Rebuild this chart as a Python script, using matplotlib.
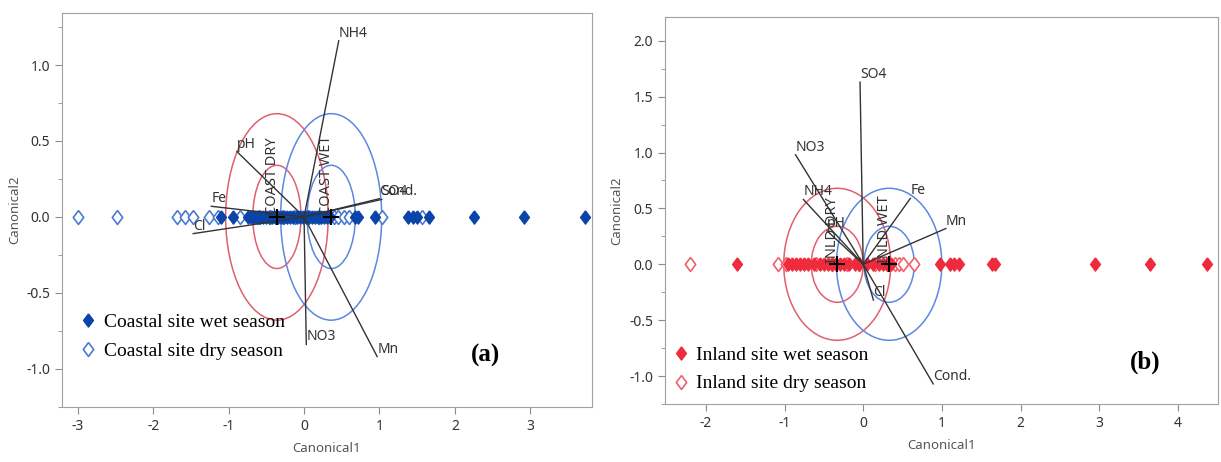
import numpy as np
import matplotlib
matplotlib.use("Agg")
import matplotlib.pyplot as plt
from matplotlib.patches import Ellipse
from matplotlib.lines import Line2D
from matplotlib.ticker import MultipleLocator

# ---------------- data ----------------
# panel (a) coastal site
a_wet_x = [-1.10, -0.94, -0.75, -0.70, -0.66, -0.62, -0.58, -0.54, -0.50, -0.46, -0.42,
           -0.38, -0.34, -0.30, -0.26, -0.22, -0.18, -0.14, -0.10, -0.06, -0.02, 0.02,
           0.06, 0.10, 0.14, 0.18, 0.22, 0.26, 0.30, 0.35, 0.68, 0.72, 0.94, 1.38,
           1.44, 1.50, 1.66, 2.26, 2.92, 3.72]
a_dry_x = [-3.00, -2.48, -1.68, -1.58, -1.47, -1.26, -1.14, -0.85, -0.60, -0.45, -0.28,
           -0.12, 0.05, 0.20, 0.40, 0.45, 0.53, 0.60, 1.03, 1.56]
a_vec_names = ["NH4", "pH", "Fe", "Cl", "SO4", "Cond.", "NO3", "Mn"]
a_vec_x = [0.46, -0.89, -1.23, -1.47, 1.03, 1.00, 0.03, 0.97]
a_vec_y = [1.16, 0.43, 0.07, -0.11, 0.115, 0.12, -0.84, -0.92]
a_grp_names = ["COAST DRY", "COAST WET"]
a_grp_x = [-0.36, 0.36]
a_inner = [(0.32, 0.34), (0.32, 0.34)]   # half widths / heights
a_outer = [(0.68, 0.68), (0.67, 0.68)]

# panel (b) inland site
b_wet_x = [-1.61, -0.95, -0.90, -0.85, -0.80, -0.75, -0.70, -0.62, -0.55, -0.50, -0.45,
           -0.40, -0.35, -0.30, -0.25, -0.18, -0.10, -0.05, 0.05, 0.12, 0.20, 0.25,
           0.30, 0.35, 0.98, 1.10, 1.15, 1.22, 1.64, 1.67, 2.95, 3.65, 4.37]
b_dry_x = [-2.20, -1.08, -0.98, -0.60, -0.40, -0.20, -0.05, 0.15, 0.30, 0.40, 0.45,
           0.50, 0.65]
b_vec_names = ["SO4", "NO3", "NH4", "pH", "Fe", "Mn", "Cl", "Cond."]
b_vec_x = [-0.04, -0.86, -0.76, -0.46, 0.60, 1.05, 0.13, 0.89]
b_vec_y = [1.63, 0.98, 0.58, 0.30, 0.59, 0.32, -0.32, -1.07]
b_grp_names = ["INLD DRY", "INLD WET"]
b_grp_x = [-0.33, 0.33]
b_inner = [(0.33, 0.34), (0.32, 0.34)]
b_outer = [(0.68, 0.68), (0.67, 0.68)]

# ---------------- style ----------------
plt.rcParams['font.family'] = ['Noto Sans', 'DejaVu Sans']
serif = ['Liberation Serif', 'DejaVu Serif']
diamond = [(0, 1), (0.75, 0), (0, -1), (-0.75, 0), (0, 1)]
gray = '#8c8c8c'
ell_red = '#e0606e'
ell_blue = '#5b88e0'

fig = plt.figure(figsize=(12.21, 4.62), dpi=100)
axA = fig.add_axes([0.0508, 0.1197, 0.4341, 0.8528])
axB = fig.add_axes([0.5446, 0.1255, 0.4529, 0.8371])


def panel(ax, wet_x, dry_x, wet_c, dry_c, names, vx, vy, gnames, gx, inner, outer,
          xlim, ylim, xt, yt, wet_lab, dry_lab, letter, letter_xy, leg_anchor):
    # ellipses
    for i, c in enumerate([ell_red, ell_blue]):
        for hw, hh in (inner[i], outer[i]):
            ax.add_patch(Ellipse((gx[i], 0), 2 * hw, 2 * hh, fill=False,
                                 edgecolor=c, lw=1.1, zorder=2))
    # points
    ax.plot(dry_x, np.zeros(len(dry_x)), linestyle='none', marker=diamond,
            markersize=10, markerfacecolor='white', markeredgecolor=dry_c,
            markeredgewidth=1.2, zorder=3)
    ax.plot(wet_x, np.zeros(len(wet_x)), linestyle='none', marker=diamond,
            markersize=9.5, color=wet_c, zorder=4)
    # group labels + means
    for i in range(2):
        ax.text(gx[i] - 0.06, 0.01, gnames[i], rotation=90, ha='center', va='bottom',
                fontsize=10.5, color='#333333', zorder=6)
        ax.plot(gx[i], 0, marker='+', markersize=11, markeredgewidth=1.5,
                color='black', zorder=6)
    # vectors
    for n, x, y in zip(names, vx, vy):
        ax.plot([0, x], [0, y], color='#333333', lw=1.0, zorder=5)
        ax.text(x, y, n, ha='left', va='bottom', fontsize=10, color='#333333', zorder=6)
    ax.set_xlim(*xlim)
    ax.set_ylim(*ylim)
    ax.set_xticks(xt)
    ax.set_yticks(yt)
    ax.yaxis.set_minor_locator(MultipleLocator(0.25))
    ax.set_xticklabels([f"{v:g}" for v in xt])
    ax.set_yticklabels([f"{v:.1f}" for v in yt])
    ax.tick_params(which='both', direction='out', color=gray, labelcolor='#333333',
                   labelsize=10)
    ax.tick_params(which='major', length=5)
    ax.tick_params(which='minor', length=3)
    for s in ax.spines.values():
        s.set_color('#a0a0a0')
    ax.set_xlabel('Canonical1', fontsize=9.5, color='#555555', labelpad=6)
    ax.set_ylabel('Canonical2', fontsize=9.5, color='#555555')
    handles = [Line2D([], [], linestyle='none', marker=diamond, markersize=9.5,
                      color=wet_c),
               Line2D([], [], linestyle='none', marker=diamond, markersize=10,
                      markerfacecolor='white', markeredgecolor=dry_c,
                      markeredgewidth=1.2)]
    ax.legend(handles, [wet_lab, dry_lab], loc='lower left', bbox_to_anchor=leg_anchor,
              frameon=False, prop={'family': serif, 'size': 14}, handlelength=0.8,
              handletextpad=0.4, labelspacing=0.55, borderaxespad=0)
    ax.text(letter_xy[0], letter_xy[1], letter, fontsize=18, fontweight='bold',
            family=serif, ha='center', va='center')


panel(axA, a_wet_x, a_dry_x, '#0b44a8', '#4a7bd0', a_vec_names, a_vec_x, a_vec_y,
      a_grp_names, a_grp_x, a_inner, a_outer, (-3.21, 3.82), (-1.25, 1.345),
      [-3, -2, -1, 0, 1, 2, 3], [1.0, 0.5, 0.0, -0.5, -1.0],
      'Coastal site wet season', 'Coastal site dry season', '(a)', (2.4, -0.91),
      (0.02, 0.10))
panel(axB, b_wet_x, b_dry_x, '#ee2a3c', '#f0606e', b_vec_names, b_vec_x, b_vec_y,
      b_grp_names, b_grp_x, b_inner, b_outer, (-2.52, 4.51), (-1.25, 2.21),
      [-2, -1, 0, 1, 2, 3, 4], [2.0, 1.5, 1.0, 0.5, 0.0, -0.5, -1.0],
      'Inland site wet season', 'Inland site dry season', '(b)', (3.58, -0.88),
      (0.0, 0.01))

fig.savefig('out.png', dpi=100)
